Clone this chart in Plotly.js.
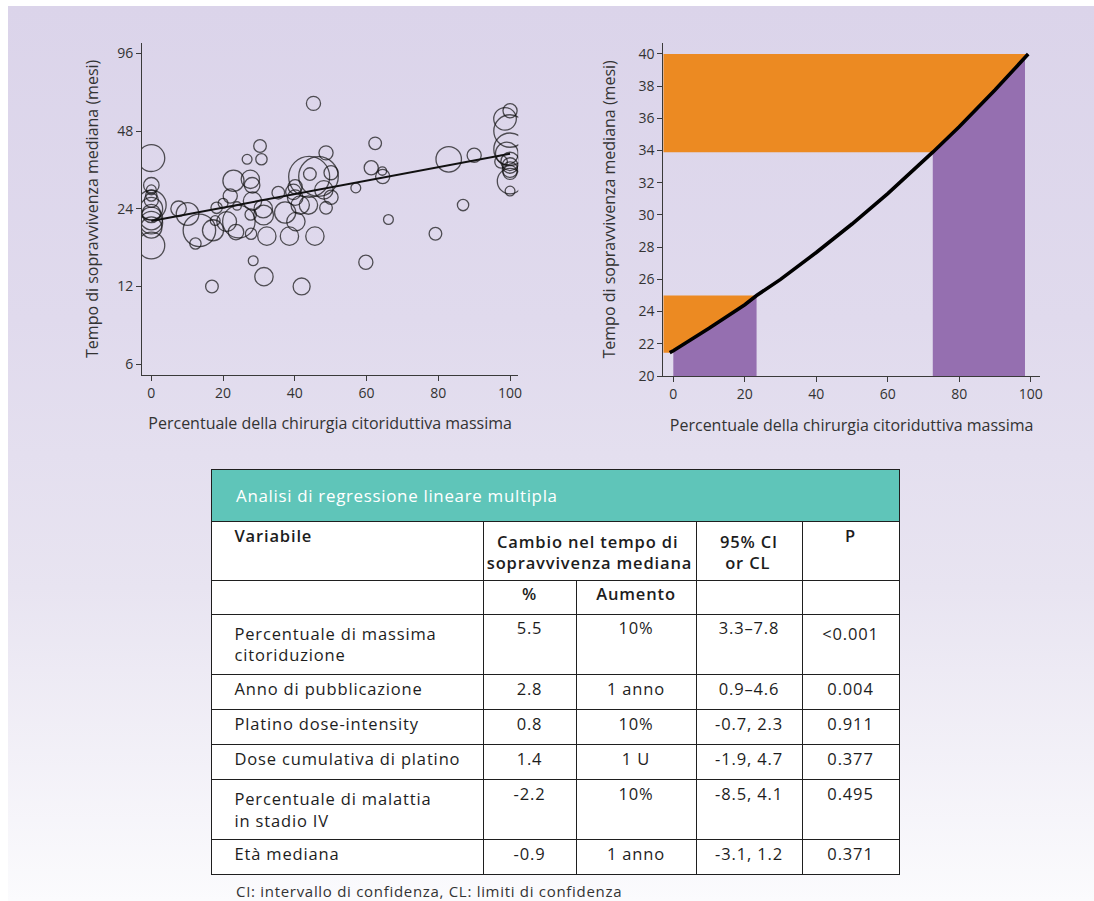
<!DOCTYPE html>
<html lang="it">
<head>
<meta charset="utf-8">
<title>Sopravvivenza mediana e chirurgia citoriduttiva</title>
<script src="https://cdn.plot.ly/plotly-3.0.1.min.js"></script>
<style>
  html, body { margin: 0; padding: 0; background: #ffffff; }
  #sfondo {
    position: absolute; left: 8px; top: 6px; width: 1086px; height: 895px;
    background: linear-gradient(to bottom, #dbd4ea 0%, #e0daed 35%, #e8e4f1 65%, #fbfbfd 100%);
  }
  #grafico { position: absolute; left: 0; top: 0; width: 1094px; height: 901px; }
  .cell-text { letter-spacing: 0.85px; }
  .annotation-text { letter-spacing: 0.7px; }
</style>
</head>
<body>
<div id="sfondo"></div>
<div id="grafico"></div>
<script>
// Studi: percentuale di chirurgia citoriduttiva massima, sopravvivenza mediana (mesi), pazienti per studio
const citoriduzione = [
  0, 0, 0, 0, 0, 0, 0, 0, 0, 0, 0, 0,
  7.6, 10.1, 13.4, 12.3, 16.9, 17.2, 18.2, 17.8, 20.0, 21.0, 22.0, 22.9, 23.9, 24.4, 23.6,
  26.7, 27.6, 28.1, 28.4, 28.2, 27.7, 27.8, 30.3, 30.7, 31.2, 31.3, 31.4, 32.2, 35.4, 37.3,
  40.3, 38.5, 45.6, 41.9, 40.1, 39.6, 40.1, 41.5, 43.8, 44.0, 46.6, 44.2, 50.1, 48.7, 48.1,
  50.1, 48.7, 57.0, 61.3, 62.4, 64.4, 64.5, 66.1, 59.8, 45.2, 79.2, 82.9, 86.9, 90.0,
  100, 98.6, 100, 100, 99.1, 97.5, 100, 100, 100, 100, 100, 100
];
const sopravvivenza = [
  37.7, 29.6, 28.4, 27.0, 25.9, 24.8, 24.0, 23.0, 22.0, 21.2, 20.3, 17.3,
  24.0, 22.9, 19.8, 17.6, 12.0, 19.8, 24.2, 21.6, 25.2, 21.4, 26.9, 30.8, 24.6, 21.4, 19.5,
  37.3, 31.2, 29.6, 15.1, 25.7, 22.8, 19.2, 42.0, 37.3, 24.0, 22.7, 13.1, 18.8, 27.7, 23.2,
  21.4, 18.8, 18.8, 12.0, 29.2, 27.9, 26.5, 24.8, 24.8, 31.9, 32.0, 32.7, 33.1, 39.5, 28.4,
  26.6, 24.2, 28.9, 34.6, 43.0, 33.6, 32.0, 21.8, 14.9, 61.4, 19.2, 37.3, 24.8, 38.7,
  57.5, 53.5, 48.0, 40.8, 39.3, 36.5, 36.6, 35.3, 34.0, 33.2, 30.7, 28.1
];
const pazienti = [
  900, 300, 120, 160, 250, 1100, 640, 420, 640, 640, 560, 900,
  300, 640, 1320, 160, 200, 560, 160, 120, 120, 490, 250, 560, 90, 1320, 300,
  120, 420, 300, 120, 420, 160, 160, 200, 160, 420, 490, 420, 420, 200, 560,
  420, 420, 420, 360, 250, 300, 300, 420, 420, 2100, 1960, 200, 250, 250, 420,
  250, 200, 120, 250, 200, 90, 250, 120, 250, 250, 200, 810, 160, 250,
  250, 640, 1320, 1320, 640, 200, 420, 300, 300, 250, 810, 120
];

// Retta di regressione (scala logaritmica)
const regressioneX = [0, 100];
const regressioneY = [21.5, 39.2];

// Curva del modello: sopravvivenza mediana attesa
const curvaX = [-1, 0, 10, 20, 23.3, 30, 40, 50, 60, 70, 72.6, 80, 90, 98.4, 99.3];
const curvaY = [21.45, 21.57, 22.96, 24.43, 25.0, 26.0, 27.67, 29.44, 31.33, 33.35, 33.9, 35.48, 37.76, 39.78, 40.0];

// Fasce di sopravvivenza (arancio) e intervalli di citoriduzione (viola)
const fasceSopravvivenza = [[21.45, 25.0], [33.9, 40]];
const intervalliCitoriduzione = [[0, 23.3], [72.6, 98.4]];

const tickPercentuale = [0, 20, 40, 60, 80, 100];
const tickSopravvivenzaLog = [6, 12, 24, 48, 96];

// Tabella
const titoloTabella = 'Analisi di regressione lineare multipla';
const intestazioni = [['Variabile'], ['Cambio nel tempo di', 'sopravvivenza mediana'], ['95% CI', 'or CL'], ['P']];
const sottoIntestazioni = ['', '%', 'Aumento', '', ''];
const variabili = [
  ['Percentuale di massima', 'citoriduzione'],
  ['Anno di pubblicazione'],
  ['Platino dose-intensity'],
  ['Dose cumulativa di platino'],
  ['Percentuale di malattia', 'in stadio IV'],
  ['Età mediana']
];
const cambioPercentuale = ['5.5', '2.8', '0.8', '1.4', '-2.2', '-0.9'];
const aumento = ['10%', '1 anno', '10%', '1 U', '10%', '1 anno'];
const intervalloConfidenza = ['3.3–7.8', '0.9–4.6', '-0.7, 2.3', '-1.9, 4.7', '-8.5, 4.1', '-3.1, 1.2'];
const valoriP = ['&lt;0.001', '0.004', '0.911', '0.377', '0.495', '0.371'];
const notaTabella = 'CI: intervallo di confidenza, CL: limiti di confidenza';

// ---- stile ----
const FONT = '"Open Sans", "Noto Sans", sans-serif';
const ARANCIO = '#ec8a22';
const VIOLA = '#956fb0';
const TEAL = '#5fc5b9';
const ASSE = '#3a3a3a';
const TESTO = '#1d1d1d';
const NBSP = '\u00a0';
const RIENTRO = NBSP.repeat(3);
const W = 1094, H = 901;
const px = v => v / W;
const py = v => 1 - v / H;

const xSinMin = -2.6, xDesMin = -2.8;

// punti della curva che soddisfano un criterio
function puntiCurva(filtro) {
  const xs = [], ys = [];
  curvaX.forEach((x, i) => { if (filtro(x, curvaY[i])) { xs.push(x); ys.push(curvaY[i]); } });
  return { xs, ys };
}

// righe di un'intestazione centrate una per una
const ctx = document.createElement('canvas').getContext('2d');
function larghezza(testo, font) {
  ctx.font = font;
  ctx.letterSpacing = '0.85px';
  return ctx.measureText(testo).width;
}
function centraRighe(righe, font) {
  const ws = righe.map(r => larghezza(r, font));
  const max = Math.max(...ws);
  const nb = larghezza(NBSP, font);
  return righe.map((r, i) => NBSP.repeat(Math.round((max - ws[i]) / 2 / nb)) + r).join('<br>');
}

const tracce = [];

// grafico a bolle
tracce.push({
  type: 'scatter', mode: 'markers', xaxis: 'x', yaxis: 'y',
  x: citoriduzione, y: sopravvivenza,
  marker: {
    size: pazienti, sizemode: 'area', sizeref: 2.5,
    color: 'rgba(0,0,0,0)', line: { color: '#111', width: 1.3 }
  },
  hoverinfo: 'skip', showlegend: false
});
tracce.push({
  type: 'scatter', mode: 'lines', xaxis: 'x', yaxis: 'y',
  x: regressioneX, y: regressioneY,
  line: { color: '#111', width: 2 }, hoverinfo: 'skip', showlegend: false
});

// aree viola sotto la curva
intervalliCitoriduzione.forEach(([a, b]) => {
  const p = puntiCurva(x => x >= a && x <= b);
  tracce.push({
    type: 'scatter', mode: 'lines', xaxis: 'x2', yaxis: 'y2',
    x: p.xs, y: p.ys, fill: 'tozeroy', fillcolor: VIOLA,
    line: { width: 0, color: VIOLA }, hoverinfo: 'skip', showlegend: false
  });
});

// fasce arancio a sinistra della curva
fasceSopravvivenza.forEach(([lo, hi]) => {
  const p = puntiCurva((x, y) => y >= lo && y <= hi);
  tracce.push({
    type: 'scatter', mode: 'lines', xaxis: 'x2', yaxis: 'y2',
    x: [xDesMin].concat(p.xs, [xDesMin]),
    y: [lo].concat(p.ys, [hi]),
    fill: 'toself', fillcolor: ARANCIO,
    line: { width: 0, color: ARANCIO }, hoverinfo: 'skip', showlegend: false
  });
});

tracce.push({
  type: 'scatter', mode: 'lines', xaxis: 'x2', yaxis: 'y2',
  x: curvaX, y: curvaY,
  line: { color: '#000', width: 3.6 }, hoverinfo: 'skip', showlegend: false
});

// tabella: barra del titolo, intestazioni, corpo
const bordo = { color: '#1f1f1f', width: 1 };
const domX = [px(211), px(899)];
const rientra = righe => RIENTRO + righe.join('<br>' + RIENTRO);
const DIM = 16.5;
const fontTab = { family: FONT, size: DIM, color: TESTO };
const fontTabForte = { family: FONT, size: DIM, color: TESTO, weight: 600 };
const fontCanvasForte = '600 ' + DIM + 'px "Open Sans"';
// riga vuota trasparente sotto le intestazioni, coperta dalla tabella successiva
const rigaVuota = n => ({
  values: Array.from({ length: n }, () => ['']), height: 1,
  fill: { color: 'rgba(0,0,0,0)' }, line: { width: 0, color: 'rgba(0,0,0,0)' }
});

tracce.push({
  type: 'table', domain: { x: domX, y: [py(545), py(469)] },
  columnwidth: [688],
  header: { values: [['']], height: 52, fill: { color: TEAL }, line: bordo, font: fontTab },
  cells: rigaVuota(1)
});
tracce.push({
  type: 'table', domain: { x: domX, y: [py(603), py(521.7)] },
  columnwidth: [272, 213, 106, 97],
  header: {
    values: intestazioni.map((righe, i) => [i === 0 ? rientra(righe) : centraRighe(righe, fontCanvasForte)]),
    height: 58,
    align: ['left', 'center', 'center', 'center'],
    fill: { color: '#ffffff' }, line: bordo, font: fontTabForte
  },
  cells: rigaVuota(4)
});
tracce.push({
  type: 'table', domain: { x: domX, y: [py(885), py(580)] },
  columnwidth: [272, 93, 120, 106, 97],
  header: {
    values: sottoIntestazioni.map(v => [v]), height: 34,
    align: ['left', 'center', 'center', 'center', 'center'],
    fill: { color: '#ffffff' }, line: bordo, font: fontTabForte
  },
  cells: {
    values: [variabili.map(rientra), cambioPercentuale, aumento, intervalloConfidenza, valoriP],
    height: 35,
    align: ['left', 'center', 'center', 'center', 'center'],
    fill: { color: '#ffffff' }, line: bordo, font: fontTab
  }
});

const titoloAsseX = 'Percentuale della chirurgia citoriduttiva massima';
const titoloAsseY = 'Tempo di sopravvivenza mediana (mesi)';
const assiComuni = {
  showgrid: false, zeroline: false, showline: true, linecolor: ASSE, linewidth: 1,
  ticks: 'outside', ticklen: 5, tickwidth: 1, tickcolor: ASSE,
  tickfont: { family: FONT, size: 14, color: '#333' }
};
const fontTitolo = { family: FONT, size: 16, color: '#333' };

const layout = {
  width: W, height: H,
  margin: { l: 0, r: 0, t: 0, b: 0 },
  paper_bgcolor: 'rgba(0,0,0,0)', plot_bgcolor: 'rgba(0,0,0,0)',
  font: { family: FONT },
  showlegend: false,
  xaxis: Object.assign({}, assiComuni, {
    domain: [px(142), px(518.3)], range: [xSinMin, 102.3], anchor: 'y',
    tickvals: tickPercentuale,
    title: { text: titoloAsseX, font: fontTitolo, standoff: 17 }
  }),
  yaxis: Object.assign({}, assiComuni, {
    domain: [py(375), py(42.7)], type: 'log',
    range: [Math.log10(5.45), Math.log10(105.5)], anchor: 'x',
    tickvals: tickSopravvivenzaLog,
    title: { text: titoloAsseY, font: fontTitolo, standoff: 14 }
  }),
  xaxis2: Object.assign({}, assiComuni, {
    domain: [px(663.3), px(1040)], range: [xDesMin, 102.6], anchor: 'y2',
    tickvals: tickPercentuale,
    title: { text: titoloAsseX, font: fontTitolo, standoff: 18 }
  }),
  yaxis2: Object.assign({}, assiComuni, {
    domain: [py(376), py(42.7)], range: [20, 40.7], anchor: 'x2', dtick: 2,
    title: { text: titoloAsseY, font: fontTitolo, standoff: 18 }
  }),
  annotations: [
    {
      xref: 'paper', yref: 'paper', x: px(234), y: py(495),
      xanchor: 'left', yanchor: 'middle', showarrow: false,
      text: titoloTabella, font: { family: FONT, size: 16.9, color: '#ffffff' }
    },
    {
      xref: 'paper', yref: 'paper', x: px(234), y: py(891),
      xanchor: 'left', yanchor: 'middle', showarrow: false,
      text: notaTabella, font: { family: FONT, size: 15, color: '#333' }
    }
  ]
};

Plotly.newPlot('grafico', tracce, layout, { staticPlot: true, displayModeBar: false });
</script>
</body>
</html>
